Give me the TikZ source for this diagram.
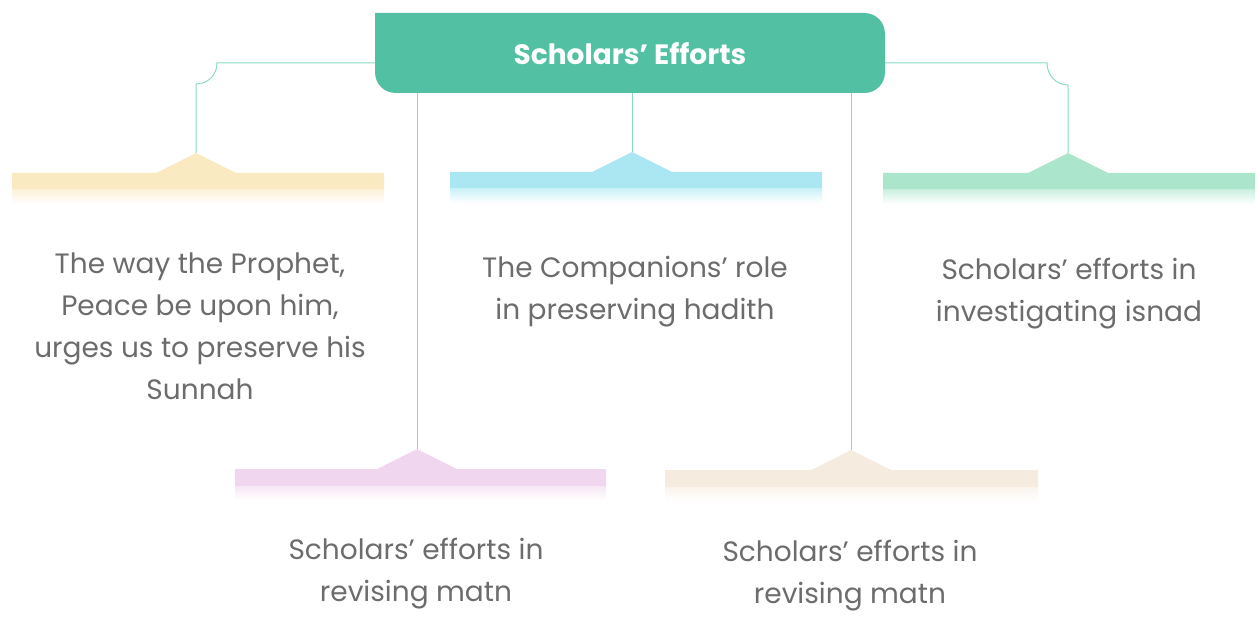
\documentclass[tikz,border=0pt]{standalone}
\usepackage{fontspec}
\setmainfont{Poppins}
\definecolor{hdrc}{RGB}{82,192,163}
\definecolor{linec}{RGB}{140,218,200}
\definecolor{txtc}{RGB}{108,108,108}
\definecolor{cyel}{RGB}{250,234,194}
\definecolor{cblu}{RGB}{170,231,243}
\definecolor{cgrn}{RGB}{170,229,204}
\definecolor{cpur}{RGB}{240,215,239}
\definecolor{cbei}{RGB}{245,235,223}
\tikzset{
  conn/.style={draw=linec, line width=1pt},
  label/.style={text=txtc, align=center, font=\fontsize{28}{42}\selectfont, inner sep=0pt},
  hdrtext/.style={text=white, font=\bfseries\fontsize{28}{32}\selectfont, inner sep=0pt},
}
% #1 left x, #2 right x, #3 apex x, #4 bar top y, #5 colour
\newcommand\ribbonbar[5]{%
  \fill[#5] (#1,#4) -- ({#3-40},#4) -- (#3,{#4-20}) -- ({#3+40},#4) -- (#2,#4) -- (#2,{#4+17}) -- (#1,{#4+17}) -- cycle;
  \shade[top color=#5!60, bottom color=white] (#1,{#4+17}) rectangle (#2,{#4+31});
}
\begin{document}
\begin{tikzpicture}[x=1pt,y=-1pt]
\useasboundingbox (0,0) rectangle (1259,623);
% header
\fill[hdrc] (375,13) -- (864,13) .. controls (876,13) and (885,22) .. (885,34) -- (885,72) .. controls (885,84) and (876,93) .. (864,93) -- (396,93) .. controls (384,93) and (375,84) .. (375,72) -- cycle;
\node[hdrtext] (hdr) at (630,54) {Scholars’ Efforts};
\coordinate (hl) at (375,63);
\coordinate (hr) at (885,63);
\coordinate (hb1) at (417,93);
\coordinate (hb2) at (632,93);
\coordinate (hb3) at (851,93);
% bars
\ribbonbar{12}{384}{196}{173}{cyel}
\ribbonbar{450}{822}{632}{172}{cblu}
\ribbonbar{883}{1255}{1068}{173}{cgrn}
\ribbonbar{235}{606}{417}{469}{cpur}
\ribbonbar{665}{1038}{851}{470}{cbei}
\coordinate (a1) at (196,153);
\coordinate (a2) at (632,152);
\coordinate (a3) at (1068,153);
\coordinate (a4) at (417,449);
\coordinate (a5) at (851,450);
% connectors
\draw[conn] (hl) -- (217,63) .. controls (217,75) and (208,84) .. (196,84) -- (a1);
\draw[conn] (hr) -- (1047,63) .. controls (1047,75) and (1056,85) .. (1068,85) -- (a3);
\draw[conn] (hb2) -- (a2);
\draw[conn] (hb1) -- (a4);
\draw[conn] (hb3) -- (a5);
% texts
\node[label] (t1) at (200,326) {The way the Prophet,\\Peace be upon him,\\urges us to preserve his\\Sunnah};
\node[label] (t2) at (635,292) {The Companions’ role\\in preserving hadith};
\node[label] (t3) at (1069,294) {Scholars’ efforts in\\investigating isnad};
\node[label] (t4) at (416,574) {Scholars’ efforts in\\revising matn};
\node[label] (t5) at (850,576) {Scholars’ efforts in\\revising matn};
\end{tikzpicture}
\end{document}
